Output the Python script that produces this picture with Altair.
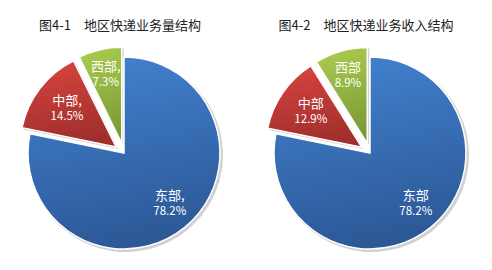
import altair as alt
import pandas as pd

regions = ["东部", "中部", "西部"]
volume_share = [78.2, 14.5, 7.3]
revenue_share = [78.2, 12.9, 8.9]
titles = ["图4-1\u3000地区快递业务量结构", "图4-2\u3000地区快递业务收入结构"]
separators = [",", ""]

FONT = "Noto Sans CJK SC"
R = 96
CX, CY = 124, 153
EXPLODE = 10

grads = {
    "东部": ["#4282D0", "#2C5896"],
    "中部": ["#D8433F", "#9E2F2B"],
    "西部": ["#AACD4E", "#7B9A36"],
}


def gradient(c0, c1):
    return alt.Gradient(
        gradient="linear",
        stops=[alt.GradientStop(color=c0, offset=0), alt.GradientStop(color=c1, offset=1)],
        x1=0.2, y1=0, x2=0.4, y2=1,
    )


def pie(values, title, sep):
    df = pd.DataFrame({
        "region": regions,
        "value": values,
        "order": list(range(len(regions))),
        "label": [r + sep for r in regions],
    })
    base = (
        alt.Chart(df)
        .transform_joinaggregate(total="sum(value)")
        .transform_window(cum="sum(value)", sort=[alt.SortField("order")], frame=[None, 0])
        .transform_calculate(
            t0="(datum.cum - datum.value) / datum.total * 2 * PI",
            t1="datum.cum / datum.total * 2 * PI",
        )
        .transform_calculate(
            mid="(datum.t0 + datum.t1) / 2",
            ex=f"datum.order == 0 ? 0 : {EXPLODE}",
            lr="datum.order == 0 ? 66 : (datum.value < 10 ? 70 : 62)",
        )
        .transform_calculate(
            cx=f"{CX} + datum.ex * sin(datum.mid)",
            cy=f"{CY} - datum.ex * cos(datum.mid)",
        )
        .transform_calculate(
            lx="datum.cx + datum.lr * sin(datum.mid) + (datum.order == 0 ? 4 : 0)",
            ly="datum.cy - datum.lr * cos(datum.mid)",
            pct="format(datum.value, '.1f') + '%'",
        )
    )
    enc = dict(
        x=alt.X("cx:Q", scale=None, axis=None),
        y=alt.Y("cy:Q", scale=None, axis=None),
        theta=alt.Theta("t0:Q", scale=None),
        theta2="t1:Q",
    )
    shadow = (
        base.transform_calculate(sx="datum.cx + 2", sy="datum.cy + 2")
        .mark_arc(outerRadius=R + 1, fill="#000000", opacity=0.18)
        .encode(
            x=alt.X("sx:Q", scale=None, axis=None),
            y=alt.Y("sy:Q", scale=None, axis=None),
            theta=alt.Theta("t0:Q", scale=None),
            theta2="t1:Q",
        )
    )
    slices = []
    for r in regions:
        c0, c1 = grads[r]
        slices.append(
            base.transform_filter(alt.datum.region == r)
            .mark_arc(outerRadius=R, fill=gradient(c0, c1), stroke="#ffffff", strokeWidth=1.5)
            .encode(**enc)
        )
    names = base.mark_text(font=FONT, fontSize=13, color="white", dy=-8).encode(
        x=alt.X("lx:Q", scale=None, axis=None),
        y=alt.Y("ly:Q", scale=None, axis=None),
        text="label:N",
    )
    pcts = base.mark_text(font=FONT, fontSize=11.5, color="white", dy=8).encode(
        x=alt.X("lx:Q", scale=None, axis=None),
        y=alt.Y("ly:Q", scale=None, axis=None),
        text="pct:N",
    )
    ttl = (
        alt.Chart(pd.DataFrame({"t": [title]}))
        .mark_text(font=FONT, fontSize=13, color="#222222", baseline="middle")
        .encode(text="t:N", x=alt.value(120), y=alt.value(26))
    )
    return alt.layer(shadow, *slices, names, pcts, ttl).properties(width=246, height=270)


chart = (
    alt.hconcat(
        pie(volume_share, titles[0], separators[0]),
        pie(revenue_share, titles[1], separators[1]),
        spacing=0,
    )
    .properties(padding=0, background="white")
    .configure_view(stroke=None)
)

chart.save("out.html", embed_options={"renderer": "svg", "actions": False})
